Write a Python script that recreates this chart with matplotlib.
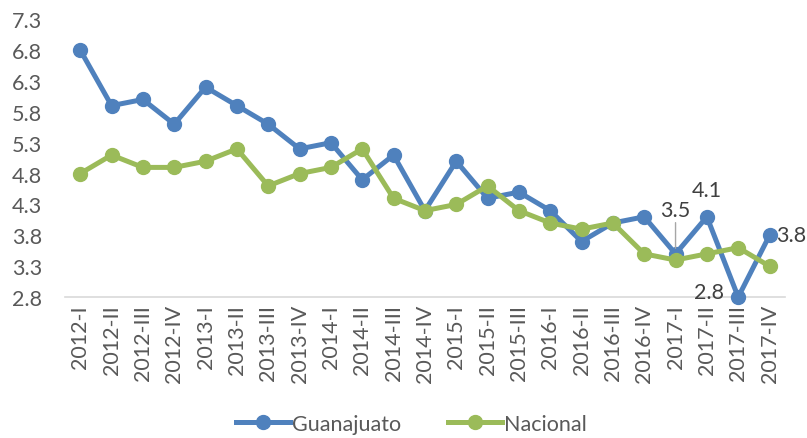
import matplotlib
matplotlib.use("Agg")
import matplotlib.pyplot as plt

categories = ["2012-I", "2012-II", "2012-III", "2012-IV", "2013-I", "2013-II", "2013-III", "2013-IV",
              "2014-I", "2014-II", "2014-III", "2014-IV", "2015-I", "2015-II", "2015-III",
              "2016-I", "2016-II", "2016-III", "2016-IV", "2017-I", "2017-II", "2017-III", "2017-IV"]
guanajuato = [6.8, 5.9, 6.0, 5.6, 6.2, 5.9, 5.6, 5.2, 5.3, 4.7, 5.1, 4.2, 5.0, 4.4, 4.5,
              4.2, 3.7, 4.0, 4.1, 3.5, 4.1, 2.8, 3.8]
nacional = [4.8, 5.1, 4.9, 4.9, 5.0, 5.2, 4.6, 4.8, 4.9, 5.2, 4.4, 4.2, 4.3, 4.6, 4.2,
            4.0, 3.9, 4.0, 3.5, 3.4, 3.5, 3.6, 3.3]
yticks = [2.8, 3.3, 3.8, 4.3, 4.8, 5.3, 5.8, 6.3, 6.8, 7.3]

plt.rcParams['font.family'] = ['Lato', 'DejaVu Sans']
fig = plt.figure(figsize=(8.07, 4.39), dpi=100)
ax = fig.add_axes([0.08, 0.321, 0.893, 0.633])

x = list(range(len(categories)))
ax.plot(x, guanajuato, color='#4F81BD', lw=3.6, marker='o', ms=10, label='Guanajuato', zorder=3, clip_on=False)
ax.plot(x, nacional, color='#9BBB59', lw=3.6, marker='o', ms=10, label='Nacional', zorder=4, clip_on=False)

ax.set_xlim(-0.5, len(categories) - 0.5)
ax.set_ylim(2.8, 7.3)
ax.set_yticks(yticks)
ax.set_yticklabels([f"{v:.1f}" for v in yticks])
ax.set_xticks(x)
ax.set_xticklabels(categories, rotation=90)
ax.tick_params(axis='both', length=0, labelsize=15.5, colors='#595959')
ax.tick_params(axis='y', pad=16)
ax.tick_params(axis='x', pad=5)
for s in ['top', 'right', 'left']:
    ax.spines[s].set_visible(False)
ax.spines['bottom'].set_color('#D9D9D9')
ax.spines['bottom'].set_linewidth(1.2)

lab = dict(fontsize=15.5, color='#404040')
i = categories.index("2017-I")
ax.annotate(f"{guanajuato[i]:.1f}", xy=(i, guanajuato[i]), xytext=(i, guanajuato[i] + 0.55),
            ha='center', va='bottom', arrowprops=dict(arrowstyle='-', color='#A6A6A6', lw=1, shrinkA=0, shrinkB=4), **lab)
i = categories.index("2017-II")
ax.annotate(f"{guanajuato[i]:.1f}", xy=(i, guanajuato[i]), xytext=(0, 12), textcoords='offset points',
            ha='center', va='bottom', **lab)
i = categories.index("2017-III")
ax.annotate(f"{guanajuato[i]:.1f}", xy=(i, guanajuato[i]), xytext=(-10, 4), textcoords='offset points',
            ha='right', va='center', **lab)
i = categories.index("2017-IV")
ax.annotate(f"{guanajuato[i]:.1f}", xy=(i, guanajuato[i]), xytext=(5, 0), textcoords='offset points',
            ha='left', va='center', **lab)

leg = fig.legend(loc='lower center', bbox_to_anchor=(0.51, -0.035), ncol=2, frameon=False,
                 fontsize=15.5, handlelength=2.5, columnspacing=2.2, handletextpad=0.1)
for t in leg.get_texts():
    t.set_color('#595959')

fig.savefig('out.png', dpi=100)
